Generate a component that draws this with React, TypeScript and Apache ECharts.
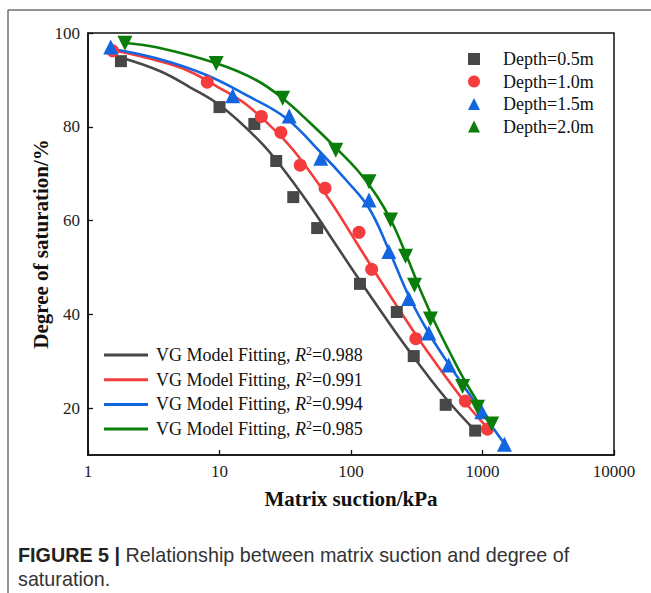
import React, { useEffect, useRef } from 'react';
import * as echarts from 'echarts';

// ---------- data ----------
const depthNames = ['Depth=0.5m', 'Depth=1.0m', 'Depth=1.5m', 'Depth=2.0m'];
const fitNames = ['fit05', 'fit10', 'fit15', 'fit20'];
const r2Values = ['0.988', '0.991', '0.994', '0.985'];
const colors = ['#474747', '#f43c3c', '#1466e0', '#0a7d0a'];
const symbols = ['rect', 'circle', 'triangle', 'triangle'];
const symbolRotates = [0, 0, 0, 180];
const yTicks = [20, 40, 60, 80, 100];

// measured points [suction kPa, saturation %]
const depth05 = [[1.78, 94.0], [10, 84.2], [18.4, 80.6], [27, 72.7], [36.4, 65.0], [55.3, 58.4], [117, 46.5], [223, 40.5], [300, 31.1], [525, 20.7], [880, 15.2]];
const depth10 = [[1.54, 96.2], [8.07, 89.5], [20.8, 82.2], [29.3, 78.8], [41.1, 71.8], [63.5, 66.9], [115, 57.5], [143.5, 49.6], [311, 34.8], [740, 21.5], [1091, 15.5]];
const depth15 = [[1.49, 97.0], [12.6, 86.6], [33.9, 82.3], [58.9, 73.3], [137, 64.4], [194, 53.4], [275, 43.4], [390, 36.0], [553, 29.2], [988, 19.2], [1468, 12.3]];
const depth20 = [[1.91, 97.8], [9.44, 93.5], [30.2, 86.1], [76.6, 75.0], [137, 68.3], [200, 60.1], [260, 52.4], [304, 46.2], [402, 39.0], [705, 24.6], [916, 20.2], [1175, 16.6]];

// fitted curves
const fit05 = [[1.8, 94.73], [3.51, 91.9], [5.93, 88.48], [10.3, 84.37], [20.09, 77.01], [28.49, 72.06], [48.06, 63.43], [74.33, 55.43], [117.0, 47.15], [177.8, 39.75], [275.0, 32.31], [515.4, 22.37], [885.2, 15.12]];
const fit10 = [[1.538, 96.37], [3.45, 94.03], [5.82, 91.9], [9.74, 88.48], [16.62, 84.37], [31.56, 77.01], [44.05, 72.06], [72.41, 63.43], [109.3, 55.43], [167.6, 47.15], [249.0, 39.75], [376.5, 32.31], [684.7, 22.37], [1091, 15.76]];
const fit15 = [[1.425, 96.74], [3.315, 94.6], [7.93, 91.04], [16.88, 86.41], [32.18, 81.81], [59.27, 74.41], [91.65, 68.65], [136.9, 62.68], [194.1, 53.72], [275, 43.91], [389.9, 36.02], [552.5, 29.41], [982.7, 19.24], [1494, 12.13]];
const fit20 = [[1.851, 97.93], [3.315, 96.95], [9.44, 93.54], [18.97, 89.98], [30.17, 86.07], [48.06, 81.02], [76.97, 75.47], [115.0, 70.36], [157.4, 65.24], [204.4, 59.69], [261.1, 52.87], [327.5, 46.04], [425.5, 38.79], [552.5, 32.39], [743.3, 25.57], [1170, 16.61]];

const pointSets = [depth05, depth10, depth15, depth20];
const fitSets = [fit05, fit10, fit15, fit20];
const symbolSizes = [12, 13, 15, 15];

const SERIF = "'Liberation Serif', 'Times New Roman', serif";
const SANS = "'Liberation Sans', Arial, sans-serif";

export default function App() {
  const ref = useRef<HTMLDivElement>(null);
  useEffect(() => {
    document.body.style.margin = '0';
    if (!ref.current) return;
    const chart = echarts.init(ref.current, undefined, { renderer: 'svg' });

    const lineSeries = fitSets.map((d, i) => ({
      name: fitNames[i],
      type: 'line',
      data: d,
      smooth: 0.4,
      symbol: 'none',
      showSymbol: false,
      z: 2,
      lineStyle: { color: colors[i], width: 2.6 },
      itemStyle: { color: colors[i] },
    }));
    const scatterSeries = pointSets.map((d, i) => ({
      name: depthNames[i],
      type: 'scatter',
      data: d,
      symbol: symbols[i],
      symbolRotate: symbolRotates[i],
      symbolSize: symbolSizes[i],
      z: 3,
      itemStyle: { color: colors[i], opacity: 1 },
    }));

    chart.setOption({
      animation: false,
      backgroundColor: '#ffffff',
      grid: {
        left: 88, top: 33, right: 37, bottom: 138,
        show: true, borderColor: '#111', borderWidth: 1.5, backgroundColor: 'transparent',
      },
      xAxis: {
        type: 'log', logBase: 10, min: 1, max: 10000,
        name: 'Matrix suction/kPa', nameLocation: 'middle', nameGap: 33, nameMoveOverlap: false,
        nameTextStyle: { fontFamily: SERIF, fontWeight: 'bold', fontSize: 21, color: '#111' },
        axisLine: { lineStyle: { color: '#111', width: 1.5 } },
        axisTick: { inside: true, length: 5, lineStyle: { color: '#111', width: 1.3 } },
        minorTick: { show: false },
        axisLabel: { fontFamily: SERIF, fontSize: 17, color: '#222', margin: 8, formatter: (v: number) => String(Math.round(v)) },
        splitLine: { show: false },
      },
      yAxis: {
        type: 'value', min: 10, max: 100, interval: 10,
        name: 'Degree of saturation/%', nameLocation: 'middle', nameGap: 37, nameMoveOverlap: false,
        nameTextStyle: { fontFamily: SERIF, fontWeight: 'bold', fontSize: 21, color: '#111' },
        axisLine: { show: true, lineStyle: { color: '#111', width: 1.5 } },
        axisTick: { show: true, inside: true, length: 5, customValues: yTicks, lineStyle: { color: '#111', width: 1.3 } },
        axisLabel: { fontFamily: SERIF, fontSize: 17, color: '#222', margin: 8, customValues: yTicks },
        splitLine: { show: false },
      },
      legend: [
        {
          data: depthNames,
          orient: 'vertical',
          left: 468, top: 49.5, padding: 0,
          itemWidth: 12, itemHeight: 12, itemGap: 3.5,
          textStyle: { fontFamily: SERIF, fontSize: 18, color: '#111', padding: [0, 0, 0, 18], lineHeight: 19 },
        },
        {
          data: fitNames,
          orient: 'vertical',
          left: 104, top: 345, padding: 0,
          icon: 'rect',
          itemWidth: 44, itemHeight: 3, itemGap: 4.7,
          formatter: (name: string) => `VG Model Fitting, {i|R}{s|2}=${r2Values[fitNames.indexOf(name)]}`,
          textStyle: {
            fontFamily: SERIF, fontSize: 18, color: '#111', lineHeight: 20, padding: [0, 0, 0, 3],
            rich: {
              i: { fontFamily: SERIF, fontSize: 18, fontStyle: 'italic', color: '#111', lineHeight: 20 },
              s: { fontFamily: SERIF, fontSize: 12, color: '#111', verticalAlign: 'top', lineHeight: 12 },
            },
          },
        },
      ],
      graphic: [
        { type: 'line', shape: { x1: 8, y1: 10, x2: 651, y2: 10 }, style: { stroke: '#6f6f6f', lineWidth: 1.5 } },
        { type: 'line', shape: { x1: 8, y1: 10, x2: 8, y2: 593 }, style: { stroke: '#6f6f6f', lineWidth: 1.5 } },
        {
          type: 'text', left: 18, top: 543,
          style: {
            text: '{b|FIGURE 5 |} Relationship between matrix suction and degree of\nsaturation.',
            fontFamily: SANS, fontSize: 19.75, fill: '#333', lineHeight: 24,
            rich: { b: { fontFamily: SANS, fontSize: 19.75, fontWeight: 'bold', fill: '#222', lineHeight: 24 } },
          },
        },
      ],
      series: [...lineSeries, ...scatterSeries],
    });
    return () => chart.dispose();
  }, []);
  return <div ref={ref} style={{ width: 651, height: 593 }} />;
}
